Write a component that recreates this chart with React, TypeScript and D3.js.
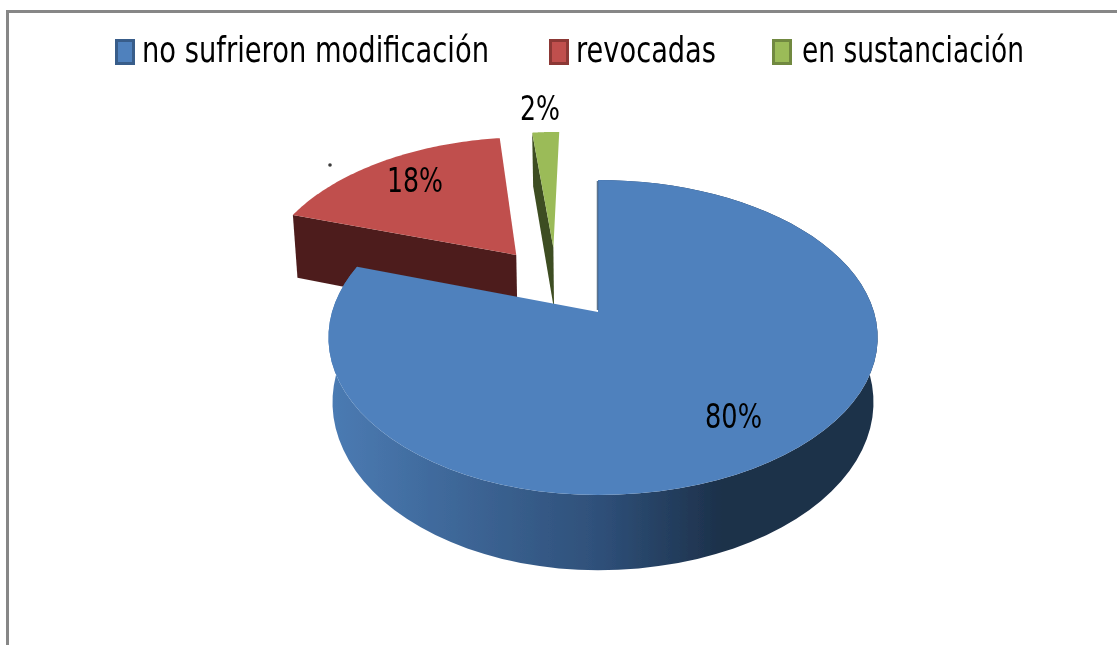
import React from "react";
import * as d3 from "d3";

const width = 1117;
const height = 645;

const categories = ["no sufrieron modificación", "revocadas", "en sustanciación"];
const values = [80, 18, 2];
const percentLabels = ["80%", "18%", "2%"];
const colors = ["#4f81bd", "#c0504d", "#9bbb59"];
const borders = ["#385d8a", "#8c3836", "#71893f"];
const sideColors = ["url(#blueWall)", "#4e1f1e", "#3e4d20"];

// how far each slice is pulled out, in disk radii, and its extrusion depth
const explodeX = [0, -0.327, -0.18];
const explodeY = [0, 0.396, 0.45];
const depths = [63, 70, 66];

const legendSwatch = [115, 549, 772];
const legendText = [[142, 347], [576, 140], [802, 222]];
const labelPos = [[705, 428, 57], [387, 192, 56], [520, 120, 40]];

// perspective of the tilted disk
const apexX = 598;
const apexY = 312;
const k = 0.162;
const project = (X: number, Y: number) => {
  const s = 1 / (1 + k * Y);
  const rx = X < 0 ? 266 : 276;
  return { x: apexX + rx * X * s, y: apexY - 153.4 * Y * s, s };
};

const pie = d3.pie<number>().sort(null)(values);
const line = d3.line<[number, number]>().curve(d3.curveLinearClosed);

const Slice = ({ i }: { i: number }) => {
  const slice = pie[i];
  const ox = explodeX[i];
  const oy = explodeY[i];
  const depth = depths[i];

  const rim = d3.range(0, 81).map(t => {
    const a = slice.startAngle + (slice.endAngle - slice.startAngle) * t / 80;
    return project(ox + Math.sin(a), oy + Math.cos(a));
  });
  const apex = project(ox, oy);
  const top = (p: typeof apex): [number, number] => [p.x, p.y];
  const low = (p: typeof apex): [number, number] => [apexX + (p.x - apexX) * 0.985, p.y + depth * p.s];

  const first = rim[0];
  return (
    <g>
      {/* only the big slice shows its rim, the pulled out ones show the cut face */}
      {i === 0 && <path d={line([...rim.map(top), ...rim.map(low).reverse()]) || ""} fill={sideColors[i]} />}
      <path d={line([top(apex), top(first), low(first), low(apex)]) || ""} fill={sideColors[i]} />
      <path d={line([top(apex), ...rim.map(top)]) || ""} fill={colors[i]} />
    </g>
  );
};

export default function App() {
  return (
    <svg width={width} height={height} style={{ position: "absolute", left: 0, top: 0, display: "block" }}>
      <defs>
        <linearGradient id="blueWall" gradientUnits="userSpaceOnUse" x1={330} x2={878} y1={0} y2={0}>
          <stop offset="0" stopColor="#4b7bb3" />
          <stop offset="0.5" stopColor="#2e4f78" />
          <stop offset="0.72" stopColor="#1c3049" />
          <stop offset="1" stopColor="#1c3049" />
        </linearGradient>
        <filter id="soft" x="-5%" y="-5%" width="110%" height="110%">
          <feGaussianBlur stdDeviation="0.7" />
        </filter>
      </defs>
      <rect width={width} height={height} fill="#ffffff" />
      <path d={`M7.5,${height}V11.5H${width}`} fill="none" stroke="#878787" strokeWidth={3} />
      <g filter="url(#soft)">
        {[2, 1, 0].map(i => <Slice key={i} i={i} />)}
        <line x1={597.5} x2={597.5} y1={181} y2={310} stroke="#1f3a5c" strokeWidth={1.5} opacity={0.7} />
        <circle cx={330} cy={165} r={1.8} fill="#3a3a3a" />
        {categories.map((name, i) => (
          <g key={name}>
            <rect x={legendSwatch[i] + 1.5} y={40.5} width={17} height={23} fill={colors[i]} stroke={borders[i]} strokeWidth={3} />
            <text x={legendText[i][0]} y={62} textLength={legendText[i][1]} lengthAdjust="spacingAndGlyphs"
                  fontFamily="'DejaVu Sans'" fontSize={35} fill="#000000">{name}</text>
          </g>
        ))}
        {percentLabels.map((label, i) => (
          <text key={label} x={labelPos[i][0]} y={labelPos[i][1]} textLength={labelPos[i][2]} lengthAdjust="spacingAndGlyphs"
                fontFamily="'DejaVu Sans'" fontSize={34} fill="#000000">{label}</text>
        ))}
      </g>
    </svg>
  );
}
